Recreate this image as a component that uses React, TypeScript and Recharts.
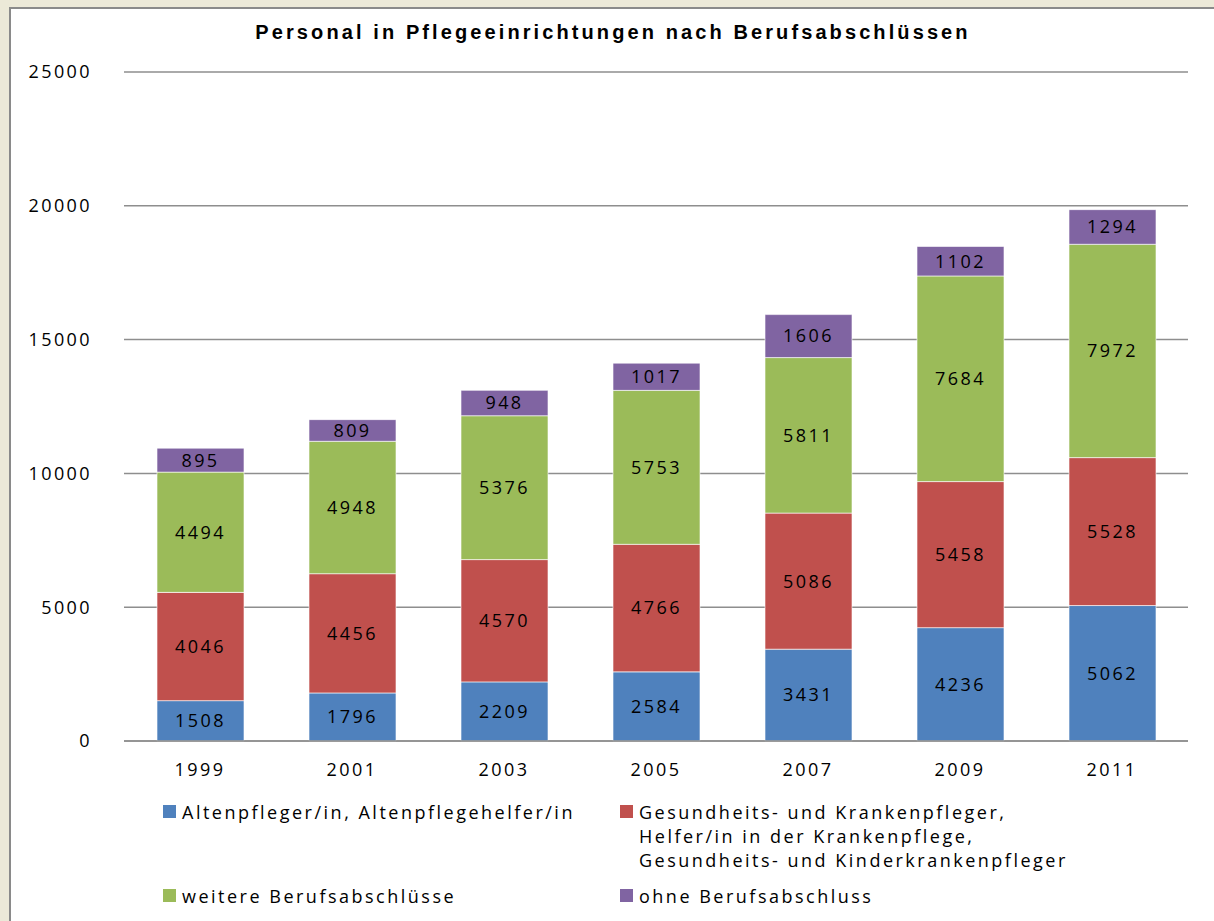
import React from 'react'
import { Bar, BarChart, CartesianGrid, LabelList, XAxis, YAxis } from 'recharts'

const years = ['1999', '2001', '2003', '2005', '2007', '2009', '2011']
const altenpflege = [1508, 1796, 2209, 2584, 3431, 4236, 5062]
const krankenpflege = [4046, 4456, 4570, 4766, 5086, 5458, 5528]
const weitere = [4494, 4948, 5376, 5753, 5811, 7684, 7972]
const ohne = [895, 809, 948, 1017, 1606, 1102, 1294]
const yTicks = [0, 5000, 10000, 15000, 20000, 25000]

const series = [
  { key: 'altenpflege', color: '#4F81BD', label: ['Altenpfleger/in, Altenpflegehelfer/in'] },
  {
    key: 'krankenpflege',
    color: '#C0504D',
    label: ['Gesundheits- und Krankenpfleger,', 'Helfer/in in der Krankenpflege,', 'Gesundheits- und Kinderkrankenpfleger'],
  },
  { key: 'weitere', color: '#9BBB59', label: ['weitere Berufsabschlüsse'] },
  { key: 'ohne', color: '#8064A2', label: ['ohne Berufsabschluss'] },
]

const data = years.map((year, i) => ({
  year,
  altenpflege: altenpflege[i],
  krankenpflege: krankenpflege[i],
  weitere: weitere[i],
  ohne: ohne[i],
}))

const font = '"Open Sans", sans-serif'
const tickStyle = { fontFamily: font, fontSize: 18, fill: '#000', letterSpacing: 2.4 }

// legend slots, laid out as in the original two-column grid
const legendPos = [
  { left: 163, top: 800 },
  { left: 620, top: 800 },
  { left: 163, top: 884 },
  { left: 620, top: 884 },
]

export default function App() {
  return (
    <div style={{ position: 'absolute', left: 0, top: 0, width: 1214, height: 921, background: '#ECE9D8', overflow: 'hidden' }}>
      <div
        style={{
          position: 'absolute',
          left: 9,
          top: 7,
          width: 1230,
          height: 940,
          background: '#fff',
          border: '2px solid #8a8a8a',
        }}
      />
      <div
        style={{
          position: 'absolute',
          left: 0,
          top: 21,
          width: 1226,
          textAlign: 'center',
          fontFamily: '"Liberation Sans", Arial, sans-serif',
          fontWeight: 'bold',
          fontSize: 20,
          letterSpacing: 3.1,
          color: '#000',
        }}
      >
        Personal in Pflegeeinrichtungen nach Berufsabschlüssen
      </div>
      <div style={{ position: 'absolute', left: 0, top: 0 }}>
        <BarChart width={1214} height={921} data={data} margin={{ top: 72, right: 26, bottom: 140, left: 24 }}>
          <CartesianGrid vertical={false} stroke="#8e8e8e" strokeWidth={1.5} />
          <XAxis
            dataKey="year"
            height={40}
            axisLine={{ stroke: '#8e8e8e', strokeWidth: 1.5 }}
            tickLine={false}
            tickSize={0}
            tickMargin={22}
            tick={tickStyle}
          />
          <YAxis
            width={100}
            domain={[0, 25000]}
            ticks={yTicks}
            axisLine={false}
            tickLine={false}
            tickSize={0}
            tickMargin={32}
            tick={tickStyle}
          />
          {series.map((s) => (
            <Bar
              key={s.key}
              dataKey={s.key}
              stackId="a"
              fill={s.color}
              barSize={87}
              stroke="rgba(255,255,255,0.6)"
              strokeWidth={1}
              isAnimationActive={false}
            >
              <LabelList
                dataKey={s.key}
                position="center"
                style={{ fontFamily: font, fontSize: 18, fill: '#000', letterSpacing: 2.4 }}
              />
            </Bar>
          ))}
        </BarChart>
      </div>
      {series.map((s, i) => (
        <div
          key={s.key}
          style={{
            position: 'absolute',
            left: legendPos[i].left,
            top: legendPos[i].top,
            display: 'flex',
            alignItems: 'flex-start',
            fontFamily: font,
            fontSize: 18,
            letterSpacing: 2.5,
            lineHeight: '24px',
            color: '#000',
          }}
        >
          <span style={{ width: 13, height: 13, background: s.color, marginTop: 5, marginRight: 6, flexShrink: 0 }} />
          <span>
            {s.label.map((line) => (
              <div key={line}>{line}</div>
            ))}
          </span>
        </div>
      ))}
    </div>
  )
}
